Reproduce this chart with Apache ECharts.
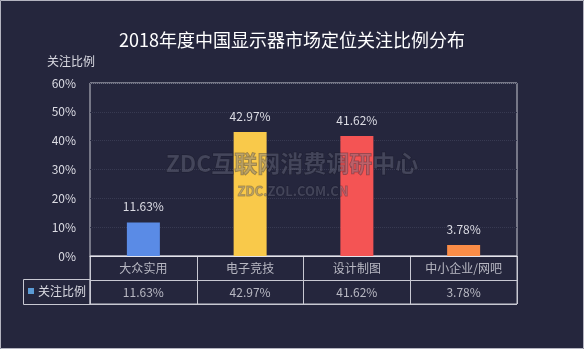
<!DOCTYPE html>
<html>
<head>
<meta charset="utf-8">
<script src="https://cdn.jsdelivr.net/npm/echarts@6/dist/echarts.min.js"></script>
<style>
  html, body { margin: 0; padding: 0; background: #25263d; }
  #chart { width: 584px; height: 349px; }
</style>
</head>
<body>
<div id="chart"></div>
<script>
// Market positioning share of monitors, 2018
const titleText = '2018年度中国显示器市场定位关注比例分布';
const seriesName = '关注比例';
const categories = ['大众实用', '电子竞技', '设计制图', '中小企业/网吧'];
const shares = [11.63, 42.97, 41.62, 3.78];
const barColors = ['#5a8be6', '#f9c94a', '#f45454', '#fa8c47'];
const yTicks = [0, 10, 20, 30, 40, 50, 60];

const FONT = '"Noto Sans CJK SC", "Noto Sans", sans-serif';
const TEXT = '#dcdce4';
const LINE = '#c8c8d2';

const chart = echarts.init(document.getElementById('chart'), null, { renderer: 'canvas' });

// table rows under the plot: category names on top, values beneath
const tableNames = categories.map(c => ({ value: [c, 1.5] }));
const tableValues = categories.map((c, i) => ({ value: [c, 0.5, shares[i]] }));

chart.setOption({
  backgroundColor: '#25263d',
  animation: false,
  textStyle: { fontFamily: FONT },
  title: {
    text: titleText,
    left: 'center',
    top: 25,
    textStyle: { color: '#ffffff', fontSize: 18, fontWeight: 'normal', fontFamily: FONT, lineHeight: 21 }
  },
  legend: {
    data: [seriesName],
    left: 28,
    top: 285,
    padding: 0,
    itemWidth: 6,
    itemHeight: 6,
    icon: 'rect',
    textStyle: { color: TEXT, fontSize: 12, fontFamily: FONT, padding: [0, 0, 0, -1] }
  },
  grid: [
    { left: 90, right: 67, top: 83, height: 173, show: true, borderColor: LINE, borderWidth: 1, backgroundColor: 'transparent' },
    { left: 90, right: 67, top: 256, height: 48, show: true, borderColor: LINE, borderWidth: 1, backgroundColor: 'transparent' }
  ],
  xAxis: [
    {
      type: 'category', gridIndex: 0, data: categories,
      axisLine: { show: true, lineStyle: { color: '#e4e4ec', width: 1 } },
      axisTick: { show: false },
      axisLabel: { show: false },
      splitLine: { show: false }
    },
    {
      type: 'category', gridIndex: 1, data: categories,
      axisLine: { show: false },
      axisTick: { show: false },
      axisLabel: { show: false },
      splitLine: { show: true, interval: 0, lineStyle: { color: LINE, width: 1 } }
    }
  ],
  yAxis: [
    {
      type: 'value', gridIndex: 0, min: yTicks[0], max: yTicks[yTicks.length - 1], interval: 10,
      name: seriesName,
      nameLocation: 'end',
      nameGap: 22,
      nameTextStyle: { color: TEXT, fontSize: 12, fontFamily: FONT, align: 'center', verticalAlign: 'middle', padding: [0, 38, 0, 0] },
      axisLine: { show: false },
      axisTick: { show: false },
      axisLabel: { color: TEXT, fontSize: 12, margin: 14, fontFamily: FONT, formatter: v => v + '%' },
      splitLine: { show: true, lineStyle: { color: '#383a52', width: 1, type: [1, 1] } }
    },
    {
      type: 'value', gridIndex: 1, min: 0, max: 2, interval: 1,
      axisLine: { show: false },
      axisTick: { show: false },
      axisLabel: { show: false },
      splitLine: { show: true, lineStyle: { color: LINE, width: 1 } }
    }
  ],
  series: [
    {
      name: seriesName,
      type: 'bar',
      xAxisIndex: 0, yAxisIndex: 0,
      barWidth: 33,
      itemStyle: { color: '#5b9bd5' },
      data: shares.map((v, i) => ({ value: v, itemStyle: { color: barColors[i] } })),
      label: {
        show: true, position: 'top', distance: 10,
        color: TEXT, fontSize: 12, fontFamily: FONT,
        formatter: p => p.value.toFixed(2) + '%'
      }
    },
    {
      name: 'tableNames',
      type: 'scatter',
      xAxisIndex: 1, yAxisIndex: 1,
      symbolSize: 1,
      itemStyle: { color: 'transparent' },
      silent: true,
      data: tableNames,
      label: { show: true, position: 'inside', color: TEXT, fontSize: 12, fontFamily: FONT, formatter: p => p.value[0] }
    },
    {
      name: 'tableValues',
      type: 'scatter',
      xAxisIndex: 1, yAxisIndex: 1,
      symbolSize: 1,
      itemStyle: { color: 'transparent' },
      silent: true,
      data: tableValues,
      label: { show: true, position: 'inside', color: TEXT, fontSize: 12, fontFamily: FONT, formatter: p => p.value[2].toFixed(2) + '%' }
    }
  ],
  graphic: [
    // legend cell of the table
    { type: 'rect', shape: { x: 23.5, y: 279.5, width: 66.5, height: 25 }, style: { fill: 'none', stroke: LINE, lineWidth: 1 }, silent: true },
    // watermark
    { type: 'text', x: 292, y: 163, silent: true, z: 100,
      style: { text: 'ZDC互联网消费调研中心', fill: 'rgba(112,114,134,0.42)', stroke: 'rgba(20,20,32,0.35)', lineWidth: 1,
               font: 'bold 23px ' + FONT, align: 'center', verticalAlign: 'middle' } },
    { type: 'text', x: 293, y: 191, silent: true, z: 100,
      style: { text: 'ZDC.ZOL.COM.CN', fill: 'rgba(112,114,134,0.42)', stroke: 'rgba(20,20,32,0.3)', lineWidth: 0.8,
               font: 'bold 13px ' + FONT, align: 'center', verticalAlign: 'middle' } },
    // outer frame
    { type: 'rect', shape: { x: 0.5, y: 0.5, width: 583, height: 348 }, style: { fill: 'none', stroke: '#b4b4c0', lineWidth: 1 }, silent: true }
  ]
});
</script>
</body>
</html>
